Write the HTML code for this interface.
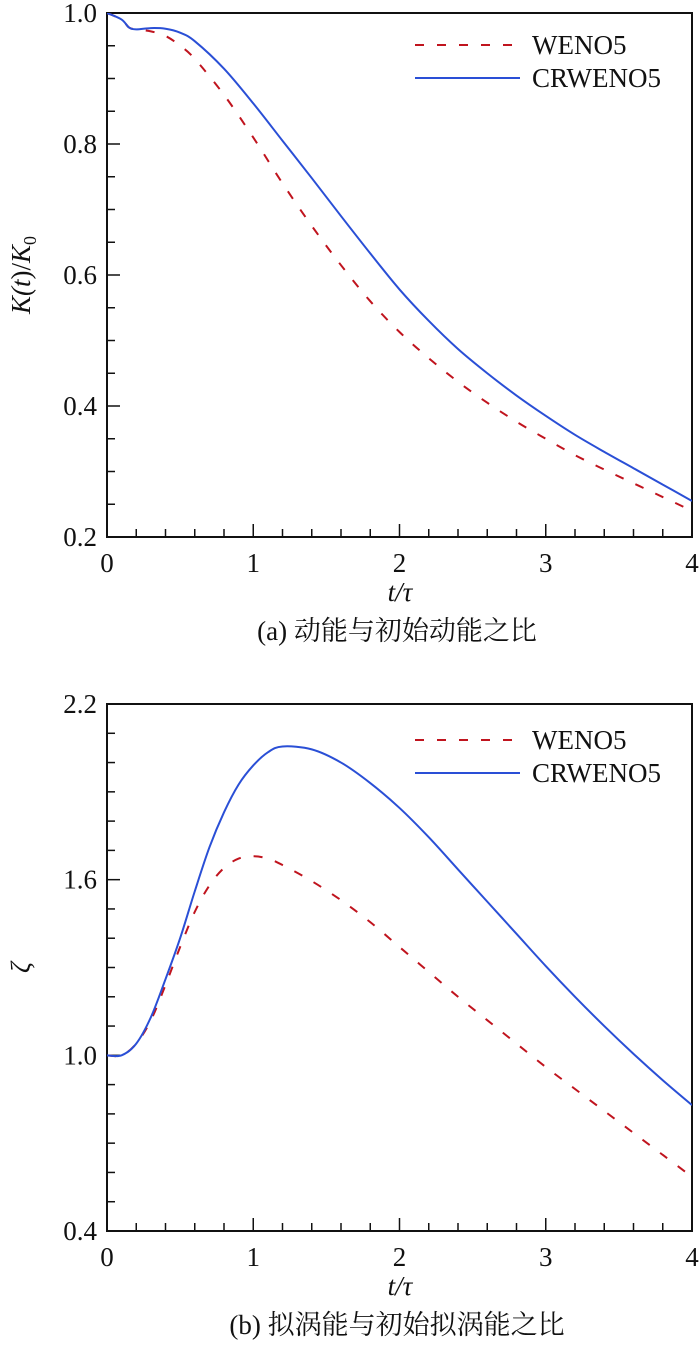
<!DOCTYPE html>
<html><head><meta charset="utf-8">
<style>
body{margin:0;background:#fff;}
svg text{font-family:"Liberation Serif","Noto Serif CJK SC",serif;fill:#111;}
</style></head>
<body>
<svg id="fig" width="700" height="1350" xmlns="http://www.w3.org/2000/svg"></svg>
<script>
const tVals=[0,0.1,0.15,0.2,0.3,0.4,0.5,0.6,0.8,1.0,1.2,1.4,1.6,1.8,2.0,2.2,2.4,2.6,2.8,3.0,3.2,3.4,3.6,3.8,4.0];
const kWeno=[1.0,0.99,0.978,0.975,0.972,0.965,0.95,0.93,0.875,0.81,0.74,0.675,0.615,0.56,0.513,0.473,0.437,0.405,0.376,0.35,0.325,0.303,0.282,0.261,0.24];
const kCrweno=[1.0,0.99,0.978,0.975,0.977,0.976,0.97,0.957,0.915,0.862,0.805,0.748,0.69,0.633,0.578,0.53,0.487,0.45,0.416,0.385,0.356,0.33,0.305,0.28,0.255];
const zT=[0,0.1,0.2,0.3,0.4,0.5,0.6,0.7,0.8,0.9,1.0,1.1,1.2,1.4,1.6,1.8,2.0,2.2,2.4,2.6,2.8,3.0,3.2,3.4,3.6,3.8,4.0];
const zWeno=[1.0,1.0,1.04,1.12,1.24,1.37,1.49,1.58,1.64,1.672,1.68,1.672,1.65,1.595,1.53,1.455,1.37,1.285,1.2,1.12,1.04,0.96,0.885,0.81,0.735,0.66,0.585];
const zCrweno=[1.0,1.0,1.04,1.13,1.26,1.40,1.56,1.71,1.83,1.925,1.99,2.035,2.055,2.045,2.0,1.93,1.845,1.745,1.635,1.525,1.415,1.305,1.2,1.1,1.005,0.915,0.83];
const xTicks=["0","1","2","3","4"];
const kTicks=["0.2","0.4","0.6","0.8","1.0"];
const zTicks=["0.4","1.0","1.6","2.2"];

const NS="http://www.w3.org/2000/svg";
const svg=document.getElementById('fig');
function el(tag,attrs,parent){const e=document.createElementNS(NS,tag);for(const k in attrs)e.setAttribute(k,attrs[k]);(parent||svg).appendChild(e);return e;}
function smooth(pts){let d='M'+pts[0][0]+','+pts[0][1];for(let i=0;i<pts.length-1;i++){const p0=pts[Math.max(0,i-1)],p1=pts[i],p2=pts[i+1],p3=pts[Math.min(pts.length-1,i+2)];
const c1=[p1[0]+(p2[0]-p0[0])/6,p1[1]+(p2[1]-p0[1])/6],c2=[p2[0]-(p3[0]-p1[0])/6,p2[1]-(p3[1]-p1[1])/6];d+=` C${c1[0]},${c1[1]} ${c2[0]},${c2[1]} ${p2[0]},${p2[1]}`;}return d;}

function panel(o){
  const L=107,R=692,T=o.top,B=o.bottom;
  const g=el('g',{});
  
  
  const xs=t=>L+(t-0)/4*(R-L);
  const ys=v=>B-(v-o.ymin)/(o.ymax-o.ymin)*(B-T);
  for(let i=0;i<=20;i++){const t=i*0.2,x=xs(t),len=(i%5==0)?13:8;
    const tk=el('line',{x1:x,x2:x,y1:B,y2:B-len,stroke:'#111','stroke-width':1.5},g);
    }
  xTicks.forEach((s,i)=>{const tx=el('text',{x:xs(+s),y:B+35,'font-size':27,'text-anchor':'middle'},g);tx.textContent=s;
    });
  const nMinor=Math.round((o.ymax-o.ymin)/o.minor);
  for(let i=0;i<=nMinor;i++){const v=o.ymin+i*o.minor,y=ys(v);const major=o.labels.some(s=>Math.abs(+s-v)<1e-6);
    const tk=el('line',{x1:L,x2:L+(major?13:8),y1:y,y2:y,stroke:'#111','stroke-width':1.5},g);
    }
  o.labels.forEach(s=>{const tx=el('text',{x:L-10,y:ys(+s)+9,'font-size':27,'text-anchor':'end'},g);tx.textContent=s;
    });
  const fr=el('rect',{x:L,y:T,width:R-L,height:B-T,fill:'none',stroke:'#111','stroke-width':2},g);
  
  const clip=el('clipPath',{id:'c'+o.name},g);el('rect',{x:L,y:T,width:R-L,height:B-T},clip);
  const p1=el('path',{d:smooth(o.t.map((t,i)=>[xs(t),ys(o.a[i])])),fill:'none',stroke:'#c0141e','stroke-width':2,'stroke-dasharray':'9,13','clip-path':`url(#c${o.name})`},g);
  
  const p2=el('path',{d:smooth(o.t.map((t,i)=>[xs(t),ys(o.b[i])])),fill:'none',stroke:'#2a4fd6','stroke-width':2,'clip-path':`url(#c${o.name})`},g);
  
  const lg=el('g',{},g);
  const ly=T+o.legOff;
  el('line',{x1:415,x2:518,y1:ly,y2:ly,stroke:'#c0141e','stroke-width':2,'stroke-dasharray':'9,13'},lg);
  let t1=el('text',{x:532,y:ly+9,'font-size':27},lg);t1.textContent='WENO5';
  
  el('line',{x1:415,x2:520,y1:ly+33,y2:ly+33,stroke:'#2a4fd6','stroke-width':2},lg);
  let t2=el('text',{x:532,y:ly+42,'font-size':27},lg);t2.textContent='CRWENO5';
  
  const xt=el('text',{x:400,y:B+64,'font-size':27,'text-anchor':'middle','font-style':'italic'},g);xt.textContent='t/τ';
  
  const cap=el('text',{x:397,y:B+103,'font-size':27,'text-anchor':'middle'},g);cap.textContent=o.caption;
  
  const yt=el('text',{x:0,y:0,'font-size':27,'text-anchor':'middle','font-style':'italic',transform:`translate(30,${(T+B)/2}) rotate(-90)`},g);
  yt.innerHTML=o.ytitle;
  
}
panel({name:'kinetic-energy-panel',top:13,bottom:537,ymin:0.2,ymax:1.0,minor:0.05,labels:kTicks,t:tVals,a:kWeno,b:kCrweno,legOff:32,
  caption:'(a) 动能与初始动能之比',ytitle:'K(<tspan font-style="italic">t</tspan><tspan font-style="normal">)/</tspan>K<tspan font-size="18" dy="6" font-style="normal">0</tspan>'});
panel({name:'enstrophy-panel',top:704,bottom:1231,ymin:0.4,ymax:2.2,minor:0.1,labels:zTicks,t:zT,a:zWeno,b:zCrweno,legOff:36,
  caption:'(b) 拟涡能与初始拟涡能之比',ytitle:'ζ'});
</script>
</body></html>
